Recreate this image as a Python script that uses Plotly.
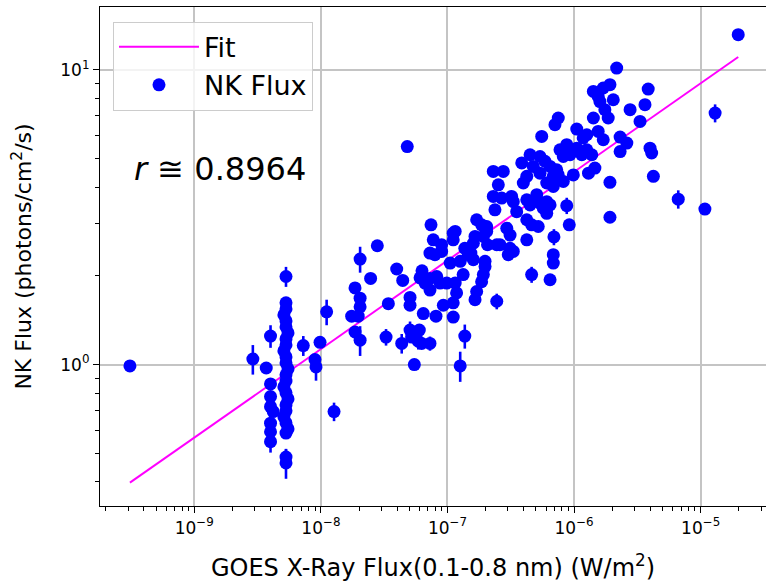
import numpy as np
import plotly.graph_objects as go

# GOES 1-8 A flux (W/m^2), NK flux (photons/cm^2/s) and its 1-sigma error
goes_flux = [
    3.1e-10, 2.9e-9, 4.0e-9, 3.7e-9, 4.0e-9, 4.0e-9, 4.0e-9, 4.2e-9, 4.0e-9, 4.0e-9, 4.0e-9,
    5.3e-9, 5.3e-9, 5.3e-9, 5.1e-9, 5.3e-9, 5.3e-9, 5.5e-9, 5.3e-9, 5.3e-9, 5.1e-9, 5.3e-9,
    5.3e-9, 5.5e-9, 5.3e-9, 5.3e-9, 5.1e-9, 5.3e-9, 5.5e-9, 5.3e-9, 5.3e-9, 5.1e-9, 5.3e-9,
    5.5e-9, 5.3e-9, 5.3e-9, 5.3e-9,
    7.26e-9, 8.98e-9, 9.15e-9, 9.84e-9, 1.11e-8, 1.27e-8, 1.86e-8, 2.04e-8, 2.04e-8, 2.04e-8,
    1.75e-8, 1.97e-8, 1.86e-8, 2.04e-8, 2.47e-8, 2.79e-8, 3.27e-8, 3.41e-8, 3.97e-8,
    4.43e-8, 4.35e-8, 4.81e-8, 5.06e-8, 5.06e-8, 5.06e-8, 5.21e-8, 5.47e-8, 5.99e-8, 5.88e-8,
    6.25e-8, 6.29e-8, 6.07e-8, 6.64e-8, 7.27e-8, 8.22e-8, 8.73e-8, 9.86e-8, 7.27e-8, 6.44e-8,
    8.11e-8, 9.27e-8, 1.11e-7, 1.15e-7, 1.18e-7, 1.11e-7, 7.27e-8, 7.41e-8, 7.72e-8, 8.99e-8,
    8.99e-8, 1.11e-7, 1.11e-7, 7.96e-8, 7.27e-8, 1.15e-7, 1.05e-7, 1.26e-7, 1.26e-7, 1.33e-7,
    1.37e-7, 1.46e-7, 1.37e-7,
    1.53e-7, 1.60e-7, 1.65e-7, 1.92e-7, 2.07e-7, 2.04e-7, 1.70e-7, 1.86e-7, 2.04e-7, 2.45e-7,
    2.60e-7, 1.60e-7, 1.98e-7, 1.98e-7, 1.92e-7, 1.86e-7, 1.70e-7, 1.65e-7, 2.45e-7, 2.30e-7,
    2.76e-7, 2.52e-7, 2.30e-7, 2.68e-7, 3.21e-7, 3.31e-7, 2.37e-7, 3.52e-7, 2.94e-7, 3.12e-7,
    3.12e-7, 3.02e-7, 3.31e-7,
    5.55e-7, 4.49e-7, 5.38e-7, 5.89e-7, 3.86e-7, 4.23e-7, 3.97e-7, 4.76e-7, 5.38e-7, 6.46e-7,
    6.85e-7, 7.29e-7, 4.23e-7, 4.49e-7, 5.07e-7, 5.38e-7, 6.08e-7, 6.46e-7, 5.71e-7, 6.08e-7,
    4.23e-7, 4.62e-7, 5.21e-7, 4.23e-7, 6.93e-7, 6.85e-7, 6.85e-7, 4.62e-7, 6.46e-7, 7.50e-7,
    6.08e-7, 6.85e-7, 7.50e-7, 7.06e-7,
    8.22e-7, 9.86e-7, 8.75e-7, 9.16e-7, 8.75e-7, 1.05e-6, 1.26e-6, 1.38e-6, 1.15e-6, 7.74e-7,
    8.22e-7, 9.29e-7, 1.05e-6, 1.26e-6, 1.18e-6, 1.55e-6, 1.70e-6, 2.31e-6, 2.61e-6, 2.31e-6,
    1.46e-6, 1.30e-6, 1.92e-6, 1.92e-6, 2.17e-6, 1.42e-6, 1.55e-6, 1.70e-6, 1.92e-6, 1.60e-6,
    2.04e-6, 1.75e-6, 1.86e-6, 1.42e-6, 2.77e-6, 3.32e-6,
    3.85e-6, 3.63e-6, 3.98e-6, 4.10e-6, 4.23e-6, 6.65e-6, 1.08e-5, 1.30e-5, 1.98e-5,
]

nk_flux = [
    0.99, 1.045, 1.25, 0.974, 0.86, 0.779, 0.72, 0.693, 0.633, 0.592, 0.548,
    1.99, 1.62, 1.545, 1.474, 1.407, 1.342, 1.281, 1.222, 1.166, 1.113, 1.062,
    1.013, 0.967, 0.923, 0.88, 0.84, 0.802, 0.765, 0.73, 0.697, 0.665, 0.634,
    0.605, 0.586, 0.486, 0.464,
    1.16, 1.04, 0.982, 1.19, 1.51, 0.693, 1.82, 2.28, 1.68, 1.57,
    1.46, 1.46, 1.29, 1.21, 1.96, 2.53, 1.24, 1.61, 2.11,
    1.93, 1.18, 5.49, 1.69, 1.59, 1.31, 1.24, 1.00, 1.31, 1.20,
    1.18, 2.08, 1.97, 1.89, 1.96, 1.99, 1.89, 1.89, 1.79, 1.49,
    1.46, 1.59, 1.62, 1.89, 1.75, 1.45, 1.18, 2.98, 2.65, 2.55,
    2.42, 2.79, 2.65, 2.36, 2.39, 2.83, 2.21, 0.99, 2.24, 2.02,
    2.48, 2.36, 1.25,
    2.39, 2.58, 2.72, 2.72, 2.55, 2.83, 3.10, 2.98, 2.94, 2.55,
    2.55, 2.27, 2.24, 2.15, 2.02, 1.91, 1.77, 1.66, 1.64, 4.52,
    4.52, 4.07, 3.72, 3.67, 3.72, 3.57, 3.35, 3.30, 2.90, 2.75,
    2.48, 2.36, 2.42,
    5.94, 5.15, 5.08, 4.89, 4.83, 4.35, 4.13, 4.70, 4.46, 4.70,
    4.35, 4.58, 3.62, 3.48, 3.77, 3.53, 3.57, 3.48, 3.39, 3.26,
    3.10, 2.98, 2.94, 2.65, 2.71, 2.36, 2.21, 2.02, 1.94, 4.40,
    4.13, 4.02, 6.86, 6.51,
    4.18, 4.40, 3.46, 2.98, 5.57, 5.42, 5.35, 5.15, 5.15, 5.35,
    5.08, 5.15, 6.29, 6.02, 5.87, 6.18, 5.79, 5.91, 5.64, 5.28,
    4.64, 4.46, 4.15, 3.16, 10.13, 8.44, 8.12, 8.67, 8.90, 7.80,
    7.91, 7.32, 6.86, 6.86, 7.32, 6.68,
    8.60, 7.61, 5.42, 5.22, 4.35, 3.64, 3.37, 7.13, 13.15,
]

nk_err = [
    0.03, 0.12, 0.11, 0.03, 0.03, 0.03, 0.03, 0.03, 0.02, 0.02, 0.045,
    0.155, 0.05, 0.05, 0.05, 0.05, 0.04, 0.04, 0.04, 0.04, 0.04, 0.04,
    0.03, 0.03, 0.03, 0.03, 0.03, 0.03, 0.03, 0.03, 0.03, 0.03, 0.03,
    0.02, 0.02, 0.03, 0.054,
    0.09, 0.03, 0.10, 0.04, 0.15, 0.05, 0.06, 0.23, 0.05, 0.05,
    0.05, 0.05, 0.04, 0.14, 0.06, 0.08, 0.08, 0.05, 0.07,
    0.06, 0.09, 0.15, 0.05, 0.05, 0.09, 0.04, 0.03, 0.04, 0.075,
    0.04, 0.07, 0.06, 0.06, 0.06, 0.06, 0.06, 0.06, 0.06, 0.05,
    0.05, 0.05, 0.05, 0.06, 0.06, 0.05, 0.065, 0.09, 0.08, 0.08,
    0.08, 0.09, 0.08, 0.07, 0.07, 0.09, 0.07, 0.116, 0.07, 0.06,
    0.08, 0.07, 0.117,
    0.07, 0.08, 0.08, 0.08, 0.08, 0.09, 0.09, 0.09, 0.09, 0.08,
    0.08, 0.07, 0.07, 0.07, 0.06, 0.06, 0.05, 0.05, 0.10, 0.14,
    0.14, 0.12, 0.11, 0.11, 0.11, 0.11, 0.10, 0.10, 0.09, 0.08,
    0.07, 0.07, 0.07,
    0.18, 0.15, 0.15, 0.15, 0.14, 0.13, 0.12, 0.14, 0.13, 0.14,
    0.13, 0.14, 0.11, 0.10, 0.11, 0.11, 0.11, 0.10, 0.10, 0.10,
    0.09, 0.09, 0.09, 0.08, 0.17, 0.07, 0.07, 0.126, 0.06, 0.13,
    0.12, 0.12, 0.20, 0.20,
    0.13, 0.13, 0.22, 0.09, 0.17, 0.16, 0.16, 0.15, 0.15, 0.16,
    0.15, 0.15, 0.19, 0.18, 0.18, 0.19, 0.17, 0.18, 0.17, 0.16,
    0.14, 0.13, 0.12, 0.09, 0.30, 0.25, 0.24, 0.26, 0.27, 0.23,
    0.24, 0.22, 0.21, 0.21, 0.22, 0.20,
    0.26, 0.23, 0.16, 0.16, 0.13, 0.26, 0.10, 0.50, 0.40,
]

# power-law fit in log-log space: log10(NK) = fit_slope * log10(GOES) + fit_intercept
fit_slope = 0.3004
fit_intercept = 2.456
corr_r = 0.8964

x_ticks = [1e-9, 1e-8, 1e-7, 1e-6, 1e-5]
x_ticktext = ["10<sup>−9</sup>", "10<sup>−8</sup>", "10<sup>−7</sup>", "10<sup>−6</sup>", "10<sup>−5</sup>"]
y_ticks = [1, 10]
y_ticktext = ["10<sup>0</sup>", "10<sup>1</sup>"]

FONT = "DejaVu Sans"

fit_x = np.array([min(goes_flux), max(goes_flux)])
fit_y = 10 ** (fit_slope * np.log10(fit_x) + fit_intercept)

# minor tick positions 2..9 x 10^k on both log axes
x_minor = [m * 10.0 ** k for k in range(-10, -4) for m in range(2, 10)]
y_minor = [m * 10.0 ** k for k in range(-1, 2) for m in range(2, 10)]

fig = go.Figure()
fig.add_trace(go.Scatter(
    x=fit_x, y=fit_y, mode="lines", name="Fit",
    line=dict(color="#ff00ff", width=2),
))
fig.add_trace(go.Scatter(
    x=goes_flux, y=nk_flux, mode="markers", name="NK Flux",
    marker=dict(color="#0000ff", size=13, line=dict(width=0)),
    error_y=dict(type="data", array=nk_err, visible=True,
                 color="#0000ff", thickness=2.6, width=0),
))

fig.add_annotation(
    x=0.048, y=0.675, xref="paper", yref="paper",
    xanchor="left", yanchor="middle", showarrow=False,
    text=f"<i>r</i> ≅ {corr_r:.4f}",
    font=dict(family=FONT, size=32, color="black"),
)

axis_common = dict(
    type="log",
    showline=True, linecolor="black", linewidth=1.2,
    ticks="outside", ticklen=6, tickwidth=1.2, tickcolor="black",
    showgrid=True, gridcolor="#c4c4c4", gridwidth=1.5,
    zeroline=False,
    tickfont=dict(family=FONT, size=17, color="black"),
    tickmode="array",
)

fig.update_xaxes(
    **axis_common,
    range=[-9.745, -4.484],
    tickvals=x_ticks, ticktext=x_ticktext,
    mirror=True,
    minor=dict(tickvals=x_minor, ticks="outside", ticklen=3.5, tickwidth=0.9,
               tickcolor="black", showgrid=False),
    title=dict(text="GOES X-Ray Flux(0.1-0.8 nm) (W/m<sup>2</sup>)",
               font=dict(family=FONT, size=24, color="black"), standoff=24),
)
fig.update_yaxes(
    **axis_common,
    range=[-0.4795, 1.2128],
    tickvals=y_ticks, ticktext=y_ticktext,
    minor=dict(tickvals=y_minor, ticks="outside", ticklen=3.5, tickwidth=0.9,
               tickcolor="black", showgrid=False),
    title=dict(text="NK Flux (photons/cm<sup>2</sup>/s)",
               font=dict(family=FONT, size=22, color="black"), standoff=22),
)

fig.update_layout(
    width=766, height=582,
    margin=dict(l=100, r=0, t=7, b=76),
    paper_bgcolor="white", plot_bgcolor="white",
    font=dict(family=FONT, color="black"),
    showlegend=True,
    legend=dict(
        x=0.0195, y=0.9705, xanchor="left", yanchor="top",
        bgcolor="rgba(255,255,255,0.8)", bordercolor="#cccccc", borderwidth=1,
        font=dict(family=FONT, size=27, color="black"),
        itemwidth=80,
    ),
)

fig.write_html("out.html")
